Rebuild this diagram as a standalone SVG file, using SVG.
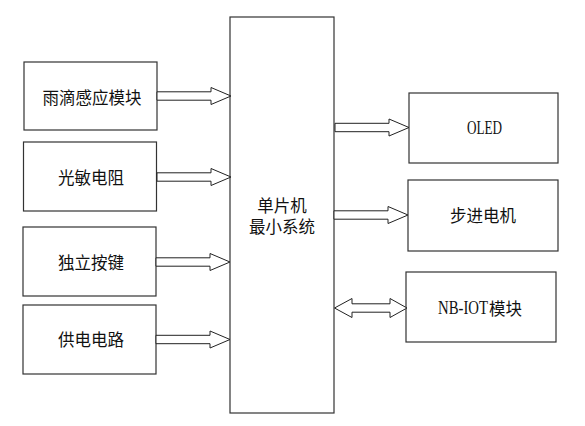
<svg xmlns="http://www.w3.org/2000/svg" xmlns:xlink="http://www.w3.org/1999/xlink" width="585" height="426" viewBox="0 0 585 426">
<style>
.box{fill:#fff;stroke:#333;stroke-width:1.2}
.arr{fill:#fff;stroke:#222;stroke-width:1}
.t{font-family:"Noto Sans CJK SC","Liberation Serif",serif;font-size:16.5px;fill:#111;text-anchor:middle;dominant-baseline:central}
.l{font-family:"Liberation Serif","Noto Sans CJK SC",serif;font-size:18px;fill:#111}
.c{font-family:"Noto Sans CJK SC",sans-serif;font-size:16.5px;fill:#111;dominant-baseline:central}
</style>
<defs>
<polygon id="ba" points="0,-4.2 54,-4.2 54,-8.5 74,0 54,8.5 54,4.2 0,4.2"/>
</defs>
<rect width="585" height="426" fill="#fff"/>
<g id="mcu"><rect class="box" x="230" y="17" width="104" height="396"/>
<text class="t" x="282" y="204.5">单片机</text><text class="t" x="282" y="226">最小系统</text></g>
<g id="rain"><rect class="box" x="24" y="62" width="133" height="68"/><text class="t" x="92" y="97">雨滴感应模块</text></g>
<g id="ldr"><rect class="box" x="23.5" y="142" width="133" height="69"/><text class="t" x="91" y="177">光敏电阻</text></g>
<g id="key"><rect class="box" x="23" y="227" width="133" height="69"/><text class="t" x="91" y="262">独立按键</text></g>
<g id="power"><rect class="box" x="23" y="305" width="133" height="69"/><text class="t" x="91" y="339">供电电路</text></g>
<g id="oled"><rect class="box" x="409" y="93" width="149" height="70"/><text class="l" x="467" y="134" textLength="35" lengthAdjust="spacingAndGlyphs">OLED</text></g>
<g id="motor"><rect class="box" x="408" y="180" width="150" height="71"/><text class="t" x="483" y="215">步进电机</text></g>
<g id="nbiot"><rect class="box" x="406" y="272" width="150" height="70"/><text class="l" x="438" y="314" textLength="50" lengthAdjust="spacingAndGlyphs">NB-IOT</text><text class="c" x="489" y="308">模块</text></g>
<g id="connectors">
<use xlink:href="#ba" class="arr" transform="translate(157,96)"/>
<use xlink:href="#ba" class="arr" transform="translate(157,177)"/>
<use xlink:href="#ba" class="arr" transform="translate(156,262)"/>
<use xlink:href="#ba" class="arr" transform="translate(156,339.5)"/>
<use xlink:href="#ba" class="arr" transform="translate(335,127.5)"/>
<use xlink:href="#ba" class="arr" transform="translate(334,215)"/>
<polygon class="arr" points="334.5,308 352,298.5 352,303.8 390,303.8 390,298.5 407,308 390,317.5 390,312.2 352,312.2 352,317.5"/>
</g>
</svg>
